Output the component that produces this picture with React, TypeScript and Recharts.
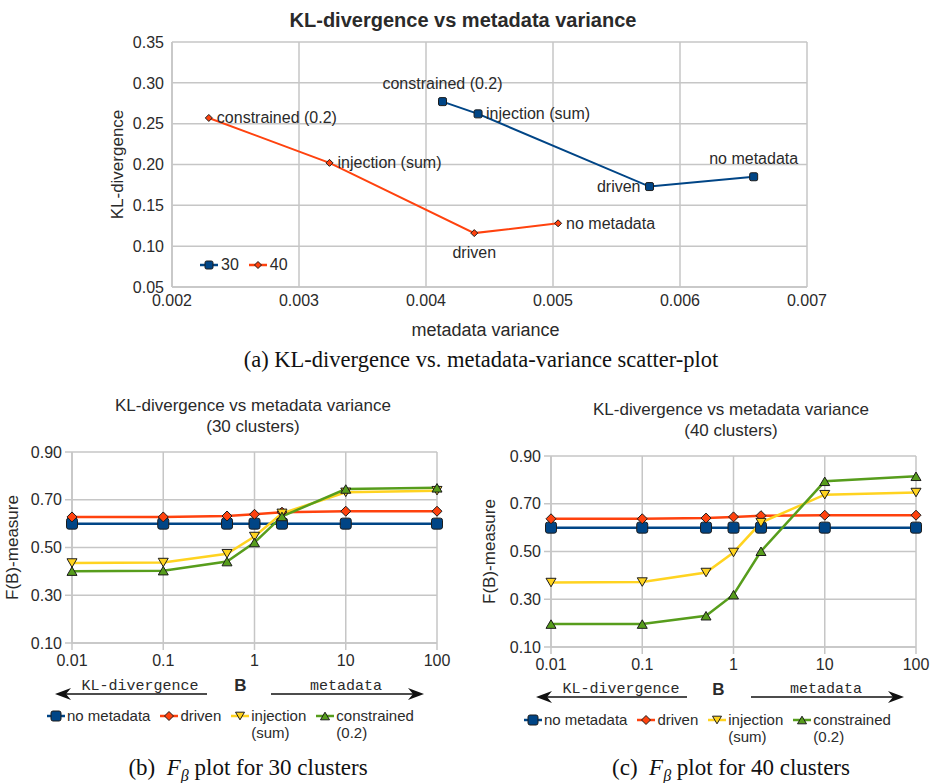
import React from "react";
import {
  ScatterChart,
  Scatter,
  LineChart,
  Line,
  XAxis,
  YAxis,
  CartesianGrid,
  Legend,
} from "recharts";

// (a) KL-divergence against metadata variance, one point per method
const klMethods = ["constrained (0.2)", "injection (sum)", "driven", "no metadata"];
const kl30Variance = [0.00413, 0.00441, 0.00576, 0.00658];
const kl30Divergence = [0.277, 0.262, 0.173, 0.185];
const kl40Variance = [0.00229, 0.00324, 0.00438, 0.00504];
const kl40Divergence = [0.257, 0.202, 0.116, 0.128];
const varianceTicks = [0.002, 0.003, 0.004, 0.005, 0.006, 0.007];
const divergenceTicks = [0.05, 0.1, 0.15, 0.2, 0.25, 0.3, 0.35];

// (b), (c) F(B)-measure against B
const betaValues = [0.01, 0.1, 0.5, 1, 2, 10, 100];
const betaTicks = [0.01, 0.1, 1, 10, 100];
const fTicks = [0.1, 0.3, 0.5, 0.7, 0.9];
const f30NoMetadata = [0.6, 0.6, 0.6, 0.6, 0.6, 0.6, 0.6];
const f30Driven = [0.628, 0.628, 0.632, 0.639, 0.648, 0.652, 0.652];
const f30Injection = [0.435, 0.437, 0.474, 0.546, 0.643, 0.731, 0.738];
const f30Constrained = [0.401, 0.403, 0.441, 0.521, 0.63, 0.745, 0.75];
const f40NoMetadata = [0.6, 0.6, 0.6, 0.6, 0.6, 0.6, 0.6];
const f40Driven = [0.637, 0.637, 0.64, 0.645, 0.65, 0.652, 0.652];
const f40Injection = [0.37, 0.372, 0.412, 0.496, 0.621, 0.738, 0.747];
const f40Constrained = [0.196, 0.196, 0.231, 0.319, 0.501, 0.794, 0.815];

const BLUE = "#004586";
const ORANGE = "#ff420e";
const YELLOW = "#ffd320";
const GREEN = "#579d1c";
const GRID = "#c6c6c6";
const INK = "#2a2a2a";
const SANS = '"Liberation Sans", Arial, sans-serif';
const SERIF = '"Liberation Serif", "Times New Roman", serif';
const MONO = '"Liberation Mono", "Courier New", monospace';

type Kind = "square" | "diamond" | "down" | "up";
type Side = "top" | "bottom" | "left" | "right";

// where each point's name sits relative to its marker
const side30: Record<string, Side> = {
  "constrained (0.2)": "top",
  "injection (sum)": "right",
  driven: "left",
  "no metadata": "top",
};
const side40: Record<string, Side> = {
  "constrained (0.2)": "right",
  "injection (sum)": "right",
  driven: "bottom",
  "no metadata": "right",
};

const fSeries = [
  { key: "noMetadata", name: "no metadata", color: BLUE, kind: "square" as Kind, size: 11 },
  { key: "driven", name: "driven", color: ORANGE, kind: "diamond" as Kind, size: 10 },
  { key: "injection", name: "injection\n(sum)", color: YELLOW, kind: "down" as Kind, size: 10 },
  { key: "constrained", name: "constrained\n(0.2)", color: GREEN, kind: "up" as Kind, size: 10 },
];

function Marker({ kind, cx, cy, size, color }: { kind: Kind; cx: number; cy: number; size: number; color: string }) {
  const h = size / 2;
  const common = { fill: color, stroke: "#1c1c1c", strokeWidth: 1 };
  if (kind === "square") {
    return <rect x={cx - h} y={cy - h} width={size} height={size} rx={size * 0.2} {...common} />;
  }
  if (kind === "diamond") {
    return <polygon points={`${cx},${cy - h} ${cx + h},${cy} ${cx},${cy + h} ${cx - h},${cy}`} {...common} />;
  }
  const t = h * 0.85;
  if (kind === "down") {
    return <polygon points={`${cx - h},${cy - t} ${cx + h},${cy - t} ${cx},${cy + t}`} {...common} />;
  }
  return <polygon points={`${cx - h},${cy + t} ${cx + h},${cy + t} ${cx},${cy - t}`} {...common} />;
}

function LegendIcon({ kind, color, size }: { kind: Kind; color: string; size: number }) {
  return (
    <svg width={18} height={18} style={{ flex: "none" }}>
      <line x1={0} x2={18} y1={9} y2={9} stroke={color} strokeWidth={2.5} />
      <Marker kind={kind} cx={9} cy={9} size={size} color={color} />
    </svg>
  );
}

function klShape(kind: Kind, size: number, color: string, sides: Record<string, Side>) {
  return (props: any) => {
    const { cx, cy, payload } = props;
    const side = sides[payload.label];
    let tx = cx;
    let ty = cy;
    let anchor: "start" | "middle" | "end" = "middle";
    if (side === "top") ty = cy - 18;
    if (side === "bottom") ty = cy + 19;
    if (side === "right") {
      tx = cx + 8;
      anchor = "start";
    }
    if (side === "left") {
      tx = cx - 9;
      anchor = "end";
    }
    return (
      <g>
        <Marker kind={kind} cx={cx} cy={cy} size={size} color={color} />
        <text x={tx} y={ty} textAnchor={anchor} dominantBaseline="central" fontSize={16} fill={INK}>
          {payload.label}
        </text>
      </g>
    );
  };
}

function KlChart() {
  const data30 = klMethods.map((label, i) => ({ label, x: kl30Variance[i], y: kl30Divergence[i] }));
  const data40 = klMethods.map((label, i) => ({ label, x: kl40Variance[i], y: kl40Divergence[i] }));
  return (
    <div style={{ position: "absolute", left: 0, top: 0 }}>
      <ScatterChart width={934} height={345} margin={{ top: 42, right: 127, bottom: 28, left: 112 }}>
        <CartesianGrid stroke={GRID} strokeWidth={1.5} />
        <XAxis
          type="number"
          dataKey="x"
          domain={[0.002, 0.007]}
          ticks={varianceTicks}
          tickFormatter={(v: number) => v.toFixed(3)}
          tick={{ fill: INK, fontSize: 16 }}
          axisLine={{ stroke: GRID, strokeWidth: 1.5 }}
          tickLine={false}
          height={30}
          label={{ value: "metadata variance", position: "bottom", offset: 6, dx: -4, fill: INK, fontSize: 18 }}
        />
        <YAxis
          type="number"
          dataKey="y"
          domain={[0.05, 0.35]}
          ticks={divergenceTicks}
          tickFormatter={(v: number) => v.toFixed(2)}
          tick={{ fill: INK, fontSize: 16 }}
          axisLine={{ stroke: GRID, strokeWidth: 1.5 }}
          tickLine={false}
          width={60}
          label={{
            value: "KL-divergence",
            angle: -90,
            position: "insideLeft",
            offset: 5,
            fill: INK,
            fontSize: 17,
            style: { textAnchor: "middle" },
          }}
        />
        <Scatter
          name="30"
          data={data30}
          fill={BLUE}
          line={{ stroke: BLUE, strokeWidth: 2 }}
          lineType="joint"
          shape={klShape("square", 8, BLUE, side30)}
          isAnimationActive={false}
        />
        <Scatter
          name="40"
          data={data40}
          fill={ORANGE}
          line={{ stroke: ORANGE, strokeWidth: 2 }}
          lineType="joint"
          shape={klShape("diamond", 7, ORANGE, side40)}
          isAnimationActive={false}
        />
        <Legend
          layout="horizontal"
          verticalAlign="middle"
          align="center"
          wrapperStyle={{ left: 200, top: 256, width: "auto" }}
          content={() => (
            <div style={{ display: "flex", gap: 10, fontSize: 16, lineHeight: "18px", color: INK }}>
              <span style={{ display: "flex", alignItems: "center", gap: 3 }}>
                <LegendIcon kind="square" color={BLUE} size={8} />
                30
              </span>
              <span style={{ display: "flex", alignItems: "center", gap: 3 }}>
                <LegendIcon kind="diamond" color={ORANGE} size={7} />
                40
              </span>
            </div>
          )}
        />
      </ScatterChart>
    </div>
  );
}

function FChart({
  left,
  marginTop,
  marginLeft,
  yWidth,
  labelOffset,
  bLabelDx,
  legendLeft,
  legendTop,
  noMetadata,
  driven,
  injection,
  constrained,
}: {
  left: number;
  marginTop: number;
  marginLeft: number;
  yWidth: number;
  labelOffset: number;
  bLabelDx: number;
  legendLeft: number;
  legendTop: number;
  noMetadata: number[];
  driven: number[];
  injection: number[];
  constrained: number[];
}) {
  const data = betaValues.map((b, i) => ({
    b,
    noMetadata: noMetadata[i],
    driven: driven[i],
    injection: injection[i],
    constrained: constrained[i],
  }));
  const plotHeight = 191;
  const height = 320;
  return (
    <div style={{ position: "absolute", left, top: 430 }}>
      <LineChart
        width={470}
        height={height}
        data={data}
        margin={{ top: marginTop, right: 470 - marginLeft - yWidth - 365, bottom: height - marginTop - plotHeight - 30, left: marginLeft }}
      >
        <CartesianGrid stroke={GRID} strokeWidth={1.5} />
        <XAxis
          type="number"
          dataKey="b"
          scale="log"
          domain={[0.01, 100]}
          ticks={betaTicks}
          tickFormatter={(v: number) => String(v)}
          tick={{ fill: INK, fontSize: 16 }}
          axisLine={{ stroke: GRID, strokeWidth: 1.5 }}
          tickLine={{ stroke: GRID, strokeWidth: 1.5 }}
          tickSize={7}
          tickMargin={5}
          height={30}
          label={{ value: "B", position: "bottom", offset: 6, dx: bLabelDx, fill: INK, fontSize: 17, fontWeight: "bold" }}
        />
        <YAxis
          type="number"
          domain={[0.1, 0.9]}
          ticks={fTicks}
          tickFormatter={(v: number) => v.toFixed(2)}
          tick={{ fill: INK, fontSize: 16 }}
          axisLine={{ stroke: GRID, strokeWidth: 1.5 }}
          tickLine={{ stroke: GRID, strokeWidth: 1.5 }}
          tickSize={7}
          tickMargin={3}
          width={yWidth}
          label={{
            value: "F(B)-measure",
            angle: -90,
            position: "insideLeft",
            offset: labelOffset,
            fill: INK,
            fontSize: 17,
            style: { textAnchor: "middle" },
          }}
        />
        {fSeries.map((s) => (
          <Line
            key={s.key}
            dataKey={s.key}
            name={s.name}
            type="linear"
            stroke={s.color}
            strokeWidth={2.5}
            dot={(p: any) => (
              <Marker key={`${s.key}-${p.index}`} kind={s.kind} cx={p.cx} cy={p.cy} size={s.size} color={s.color} />
            )}
            activeDot={false}
            isAnimationActive={false}
          />
        ))}
        <Legend
          layout="horizontal"
          verticalAlign="middle"
          align="center"
          wrapperStyle={{ left: legendLeft, top: legendTop, width: "auto" }}
          content={() => (
            <div style={{ display: "flex", alignItems: "flex-start", gap: 10, fontSize: 15, lineHeight: "17px", color: INK }}>
              {fSeries.map((s) => (
                <div key={s.key} style={{ display: "flex", alignItems: "flex-start", gap: 2 }}>
                  <LegendIcon kind={s.kind} color={s.color} size={s.size - 1} />
                  <span style={{ whiteSpace: "pre-line" }}>{s.name}</span>
                </div>
              ))}
            </div>
          )}
        />
      </LineChart>
    </div>
  );
}

function ArrowNote({ x1, x2, y, tip, text, textX }: { x1: number; x2: number; y: number; tip: "left" | "right"; text: string; textX: number }) {
  const tx = tip === "left" ? x1 : x2;
  const d = tip === "left" ? 1 : -1;
  return (
    <g>
      <line x1={x1 + (tip === "left" ? 8 : 0)} x2={x2 - (tip === "right" ? 8 : 0)} y1={y} y2={y} stroke="#111" strokeWidth={1.5} />
      <polygon points={`${tx},${y} ${tx + d * 16},${y - 6} ${tx + d * 11},${y} ${tx + d * 16},${y + 6}`} fill="#111" />
      <text x={textX} y={y - 8} textAnchor="middle" dominantBaseline="central" fontFamily={MONO} fontSize={15} fill={INK}>
        {text}
      </text>
    </g>
  );
}

const titleStyle: React.CSSProperties = {
  position: "absolute",
  width: 400,
  textAlign: "center",
  fontFamily: SANS,
  color: INK,
};
const captionStyle: React.CSSProperties = {
  position: "absolute",
  width: 500,
  textAlign: "center",
  fontFamily: SERIF,
  fontSize: 22.5,
  lineHeight: "26px",
  color: "#111",
  whiteSpace: "nowrap",
};

export default function App() {
  return (
    <div
      style={{
        position: "absolute",
        left: 0,
        top: 0,
        width: 934,
        height: 783,
        background: "#fff",
        fontFamily: SANS,
        overflow: "hidden",
      }}
    >
      <div style={{ ...titleStyle, left: 463 - 200, top: 8, fontSize: 20, fontWeight: "bold", lineHeight: "24px" }}>
        KL-divergence vs metadata variance
      </div>
      <KlChart />
      <div style={{ ...captionStyle, left: 481 - 250, top: 347 }}>(a) KL-divergence vs. metadata-variance scatter-plot</div>

      <div style={{ ...titleStyle, left: 253 - 200, top: 395, fontSize: 17, lineHeight: "21px" }}>
        KL-divergence vs metadata variance
        <br />
        (30 clusters)
      </div>
      <div style={{ ...titleStyle, left: 731 - 200, top: 399, fontSize: 17, lineHeight: "21px" }}>
        KL-divergence vs metadata variance
        <br />
        (40 clusters)
      </div>

      <FChart
        left={0}
        marginTop={22}
        marginLeft={4}
        yWidth={68}
        labelOffset={8}
        bLabelDx={-14}
        legendLeft={47}
        legendTop={277}
        noMetadata={f30NoMetadata}
        driven={f30Driven}
        injection={f30Injection}
        constrained={f30Constrained}
      />
      <FChart
        left={464}
        marginTop={26}
        marginLeft={20}
        yWidth={67}
        labelOffset={5}
        bLabelDx={-15}
        legendLeft={60}
        legendTop={281}
        noMetadata={f40NoMetadata}
        driven={f40Driven}
        injection={f40Injection}
        constrained={f40Constrained}
      />

      <svg width={934} height={783} style={{ position: "absolute", left: 0, top: 0, pointerEvents: "none" }}>
        <ArrowNote x1={55} x2={207} y={694} tip="left" text="KL-divergence" textX={140} />
        <ArrowNote x1={271} x2={424} y={694} tip="right" text="metadata" textX={346} />
        <ArrowNote x1={536} x2={687} y={697} tip="left" text="KL-divergence" textX={621} />
        <ArrowNote x1={751} x2={904} y={697} tip="right" text="metadata" textX={826} />
      </svg>

      <div style={{ ...captionStyle, fontSize: 23, left: 248 - 250, top: 755 }}>
        (b){"\u2002"}
        <i>F</i>
        <sub style={{ fontSize: 16 }}>
          <i>β</i>
        </sub>{" "}
        plot for 30 clusters
      </div>
      <div style={{ ...captionStyle, fontSize: 23, left: 731 - 250, top: 755 }}>
        (c){"\u2002"}
        <i>F</i>
        <sub style={{ fontSize: 16 }}>
          <i>β</i>
        </sub>{" "}
        plot for 40 clusters
      </div>
    </div>
  );
}
